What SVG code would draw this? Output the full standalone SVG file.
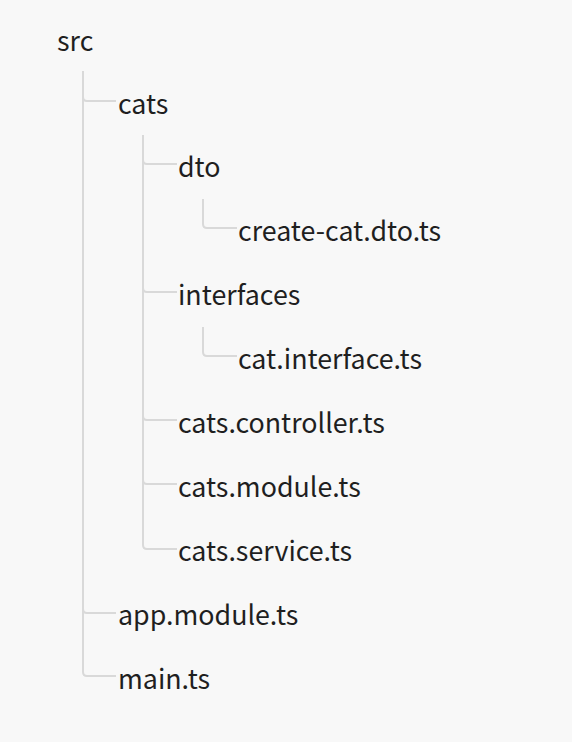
<svg xmlns="http://www.w3.org/2000/svg" width="572" height="742" viewBox="0 0 572 742">
<style>
text{font-family:"Noto Sans CJK SC","Noto Sans",sans-serif;font-size:26.8px;fill:#1f1f1f}
.c{fill:none;stroke:#d9d9d9;stroke-width:2}
</style>
<rect width="572" height="742" fill="#f8f8f8"/>
<g id="connectors">
<path class="c" d="M83 71V672Q83 676 87 676H116"/>
<path class="c" d="M83 97Q83 101 87 101H116"/>
<path class="c" d="M83 609Q83 613 87 613H116"/>
<path class="c" d="M143 135V545Q143 549 147 549H177"/>
<path class="c" d="M143 160Q143 164 147 164H177"/>
<path class="c" d="M143 288Q143 292 147 292H177"/>
<path class="c" d="M143 416Q143 420 147 420H177"/>
<path class="c" d="M143 480Q143 484 147 484H177"/>
<path class="c" d="M203 199V224Q203 228 207 228H237"/>
<path class="c" d="M203 327V352Q203 356 207 356H237"/>
</g>
<g id="n-src"><text x="57" y="51">src</text></g>
<g id="n-cats"><text x="118" y="114">cats</text></g>
<g id="n-dto"><text x="178" y="177">dto</text></g>
<g id="n-create-cat-dto"><text x="238" y="241">create-cat.dto.ts</text></g>
<g id="n-interfaces"><text x="178" y="305">interfaces</text></g>
<g id="n-cat-interface"><text x="238" y="369">cat.interface.ts</text></g>
<g id="n-cats-controller"><text x="178" y="433">cats.controller.ts</text></g>
<g id="n-cats-module"><text x="178" y="497">cats.module.ts</text></g>
<g id="n-cats-service"><text x="178" y="561">cats.service.ts</text></g>
<g id="n-app-module"><text x="118" y="625">app.module.ts</text></g>
<g id="n-main"><text x="118" y="689">main.ts</text></g>
</svg>
